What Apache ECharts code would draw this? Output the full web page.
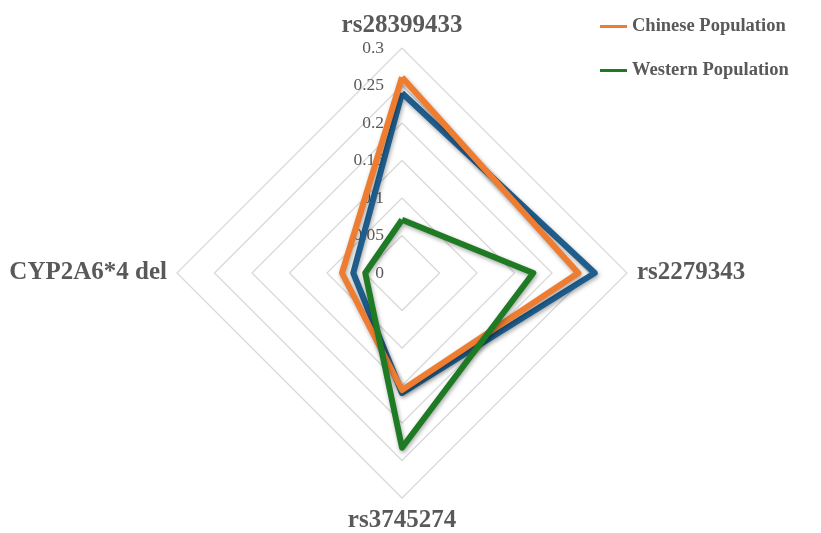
<!DOCTYPE html>
<html>
<head>
<meta charset="utf-8">
<script src="https://cdn.jsdelivr.net/npm/echarts@6/dist/echarts.min.js"></script>
<style>
  html, body { margin: 0; padding: 0; background: #ffffff; }
  #chart { width: 821px; height: 533px; }
</style>
</head>
<body>
<div id="chart"></div>
<script>
// SNP allele frequencies per population
const indicators = ['rs28399433', 'CYP2A6*4 del', 'rs3745274', 'rs2279343'];
const chineseValues = [0.261, 0.080, 0.156, 0.235];
const westernValues = [0.071, 0.049, 0.233, 0.175];
const overallValues = [0.240, 0.065, 0.160, 0.257];
const tickMax = 0.3;
const tickStep = 0.05;

const serif = '"Liberation Serif", "DejaVu Serif", serif';
const textGrey = '#595959';

const chart = echarts.init(document.getElementById('chart'), null, { renderer: 'canvas' });

const shadow = {
  shadowColor: 'rgba(0,0,0,0.35)',
  shadowBlur: 4,
  shadowOffsetX: 1,
  shadowOffsetY: 2
};

function lineSeries(name, values, color, z) {
  return {
    type: 'radar',
    name: name,
    z: z,
    symbol: 'none',
    silent: true,
    data: [{ value: values, name: name }],
    lineStyle: Object.assign({ color: color, width: 6 }, shadow),
    itemStyle: { color: color },
    areaStyle: null
  };
}

chart.setOption({
  animation: false,
  backgroundColor: '#ffffff',
  legend: {
    orient: 'vertical',
    left: 600,
    top: 17,
    padding: 0,
    itemGap: 25,
    itemWidth: 27,
    itemHeight: 3,
    data: [
      { name: 'Chinese Population', icon: 'rect' },
      { name: 'Western Population', icon: 'rect' }
    ],
    textStyle: { fontFamily: serif, fontWeight: 'bold', fontSize: 18.5, color: textGrey }
  },
  radar: {
    center: [402, 273],
    radius: 225,
    shape: 'polygon',
    startAngle: 90,
    splitNumber: 6,
    axisName: { fontFamily: serif, fontWeight: 'bold', fontSize: 25, color: textGrey },
    nameGap: 10,
    indicator: indicators.map((n, i) => {
      const ind = { name: n, min: 0, max: tickMax };
      if (i === 0) {
        ind.axisLabel = {
          show: true,
          fontFamily: serif,
          fontSize: 17.5,
          color: textGrey,
          margin: 18,
          formatter: v => String(+v.toFixed(2))
        };
        ind.interval = tickStep;
      }
      return ind;
    }),
    axisLine: { show: false },
    axisTick: { show: false },
    splitLine: { lineStyle: { color: '#d9d9d9', width: 1.3 } },
    splitArea: { show: false }
  },
  series: [
    lineSeries('Overall', overallValues, '#1f5d8c', 2),
    lineSeries('Chinese Population', chineseValues, '#ee7d31', 3),
    lineSeries('Western Population', westernValues, '#1f7a24', 4)
  ]
});
</script>
</body>
</html>
